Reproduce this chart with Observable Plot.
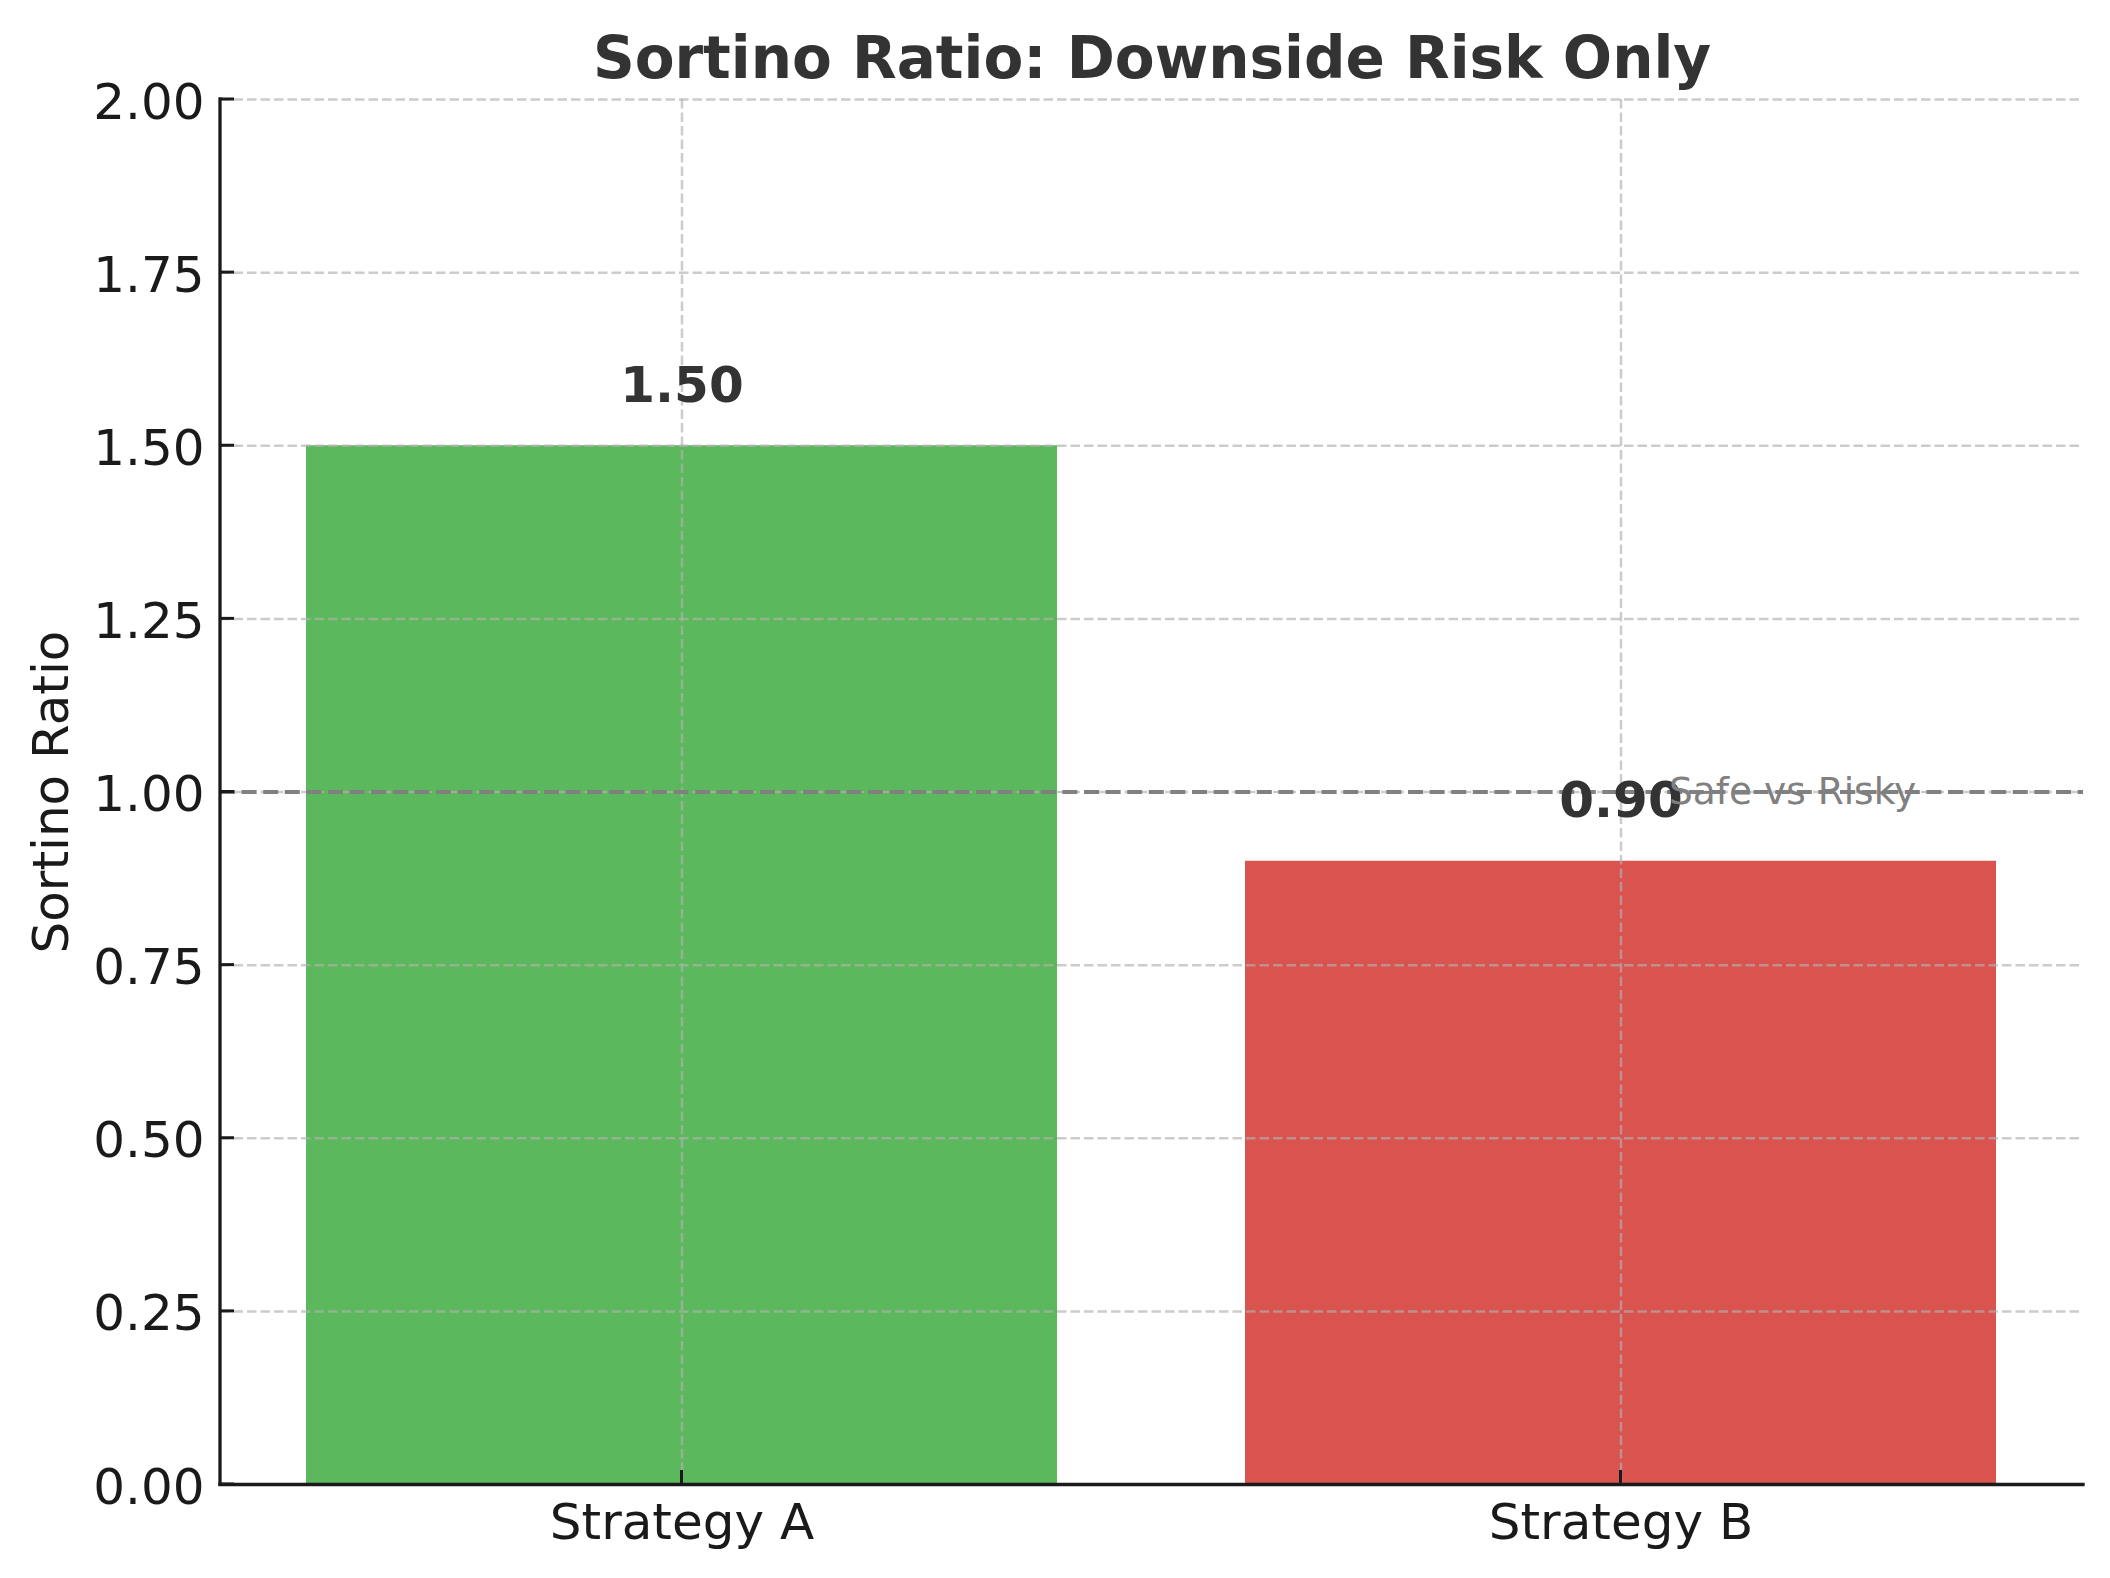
<!DOCTYPE html>
<html>
<head>
<meta charset="utf-8">
<script src="https://cdn.jsdelivr.net/npm/d3@7"></script>
<script src="https://cdn.jsdelivr.net/npm/@observablehq/plot@0.6"></script>
<style>
  html, body { margin: 0; padding: 0; background: white; }
  #chart { width: 2110px; height: 1578px; }
</style>
</head>
<body>
<div id="chart"></div>
<script>
const strategies = ["Strategy A", "Strategy B"];
const sortinoValues = [1.50, 0.90];
const barColors = ["#5cb85c", "#d9534f"];
const yTicks = [0, 0.25, 0.5, 0.75, 1.0, 1.25, 1.5, 1.75, 2.0];
const threshold = 1.0;
const thresholdLabel = "Safe vs Risky";
const chartTitle = "Sortino Ratio: Downside Risk Only";
const yLabel = "Sortino Ratio";

const data = strategies.map((s, i) => ({strategy: s, value: sortinoValues[i], color: barColors[i]}));

const spineColor = "#1a1a1a";
const tickLen = 14;

// Left spine plus inward tick marks, positioned through Plot's scales
const spinesAndTicks = (index, scales, values, dims) => {
  const g = d3.create("svg:g").attr("stroke", spineColor).attr("fill", "none");
  const left = dims.marginLeft;
  const bottom = dims.height - dims.marginBottom;
  g.append("line")
    .attr("x1", left).attr("x2", left)
    .attr("y1", dims.marginTop).attr("y2", bottom)
    .attr("stroke-width", 3.3).attr("stroke-linecap", "square");
  for (const t of yTicks) {
    const y = scales.y(t);
    g.append("line").attr("x1", left).attr("x2", left + tickLen)
      .attr("y1", y).attr("y2", y).attr("stroke-width", 3);
  }
  const bw = scales.x.bandwidth ? scales.x.bandwidth() : 0;
  for (const s of strategies) {
    const x = scales.x(s) + bw / 2;
    g.append("line").attr("x1", x).attr("x2", x)
      .attr("y1", bottom).attr("y2", bottom - tickLen).attr("stroke-width", 3);
  }
  return g.node();
};

const chart = Plot.plot({
  width: 2110,
  height: 1578,
  marginTop: 99,
  marginBottom: 94,
  marginLeft: 220,
  marginRight: 27,
  style: {fontFamily: "DejaVu Sans", fontSize: "50px", background: "white", color: spineColor},
  x: {domain: strategies, paddingInner: 0.2, paddingOuter: 0.091, align: 0.5, label: null},
  y: {domain: [0, 2], label: null},
  marks: [
    Plot.barY(data, {x: "strategy", y: "value", fill: "color"}),
    Plot.gridY(yTicks, {stroke: "#b0b0b0", strokeOpacity: 0.65, strokeWidth: 2.5, strokeDasharray: "9.5,4"}),
    Plot.gridX(strategies, {stroke: "#b0b0b0", strokeOpacity: 0.65, strokeWidth: 2.5, strokeDasharray: "9.5,4"}),
    Plot.ruleY([threshold], {stroke: "#808080", strokeWidth: 4, strokeDasharray: "15,6.6"}),
    Plot.axisY(yTicks, {tickFormat: d3.format(".2f"), tickSize: 0, tickPadding: 16, fontSize: 50, dy: 3, label: null}),
    Plot.axisX(strategies, {tickSize: 0, tickPadding: 18.5, fontSize: 50, label: null}),
    Plot.ruleY([0], {stroke: spineColor, strokeWidth: 3.3, strokeLinecap: "square"}),
    spinesAndTicks,
    Plot.text(data, {x: "strategy", y: "value", text: d => d.value.toFixed(2), dy: -44, lineAnchor: "bottom", fontSize: 50, fontWeight: "bold", fill: "#333333"}),
    Plot.text([{x: strategies[1], y: threshold}], {x: "x", y: "y", text: () => thresholdLabel, textAnchor: "start", lineAnchor: "middle", dx: 48, fontSize: 37.5, fill: "#808080"}),
    Plot.text([chartTitle], {frameAnchor: "top", dy: -22, lineAnchor: "bottom", fontSize: 58, fontWeight: "bold", fill: "#333333"}),
    Plot.text([yLabel], {frameAnchor: "left", dx: -153, rotate: -90, lineAnchor: "bottom", textAnchor: "middle", fontSize: 50, fill: spineColor})
  ]
});
document.getElementById("chart").appendChild(chart);
</script>
</body>
</html>
